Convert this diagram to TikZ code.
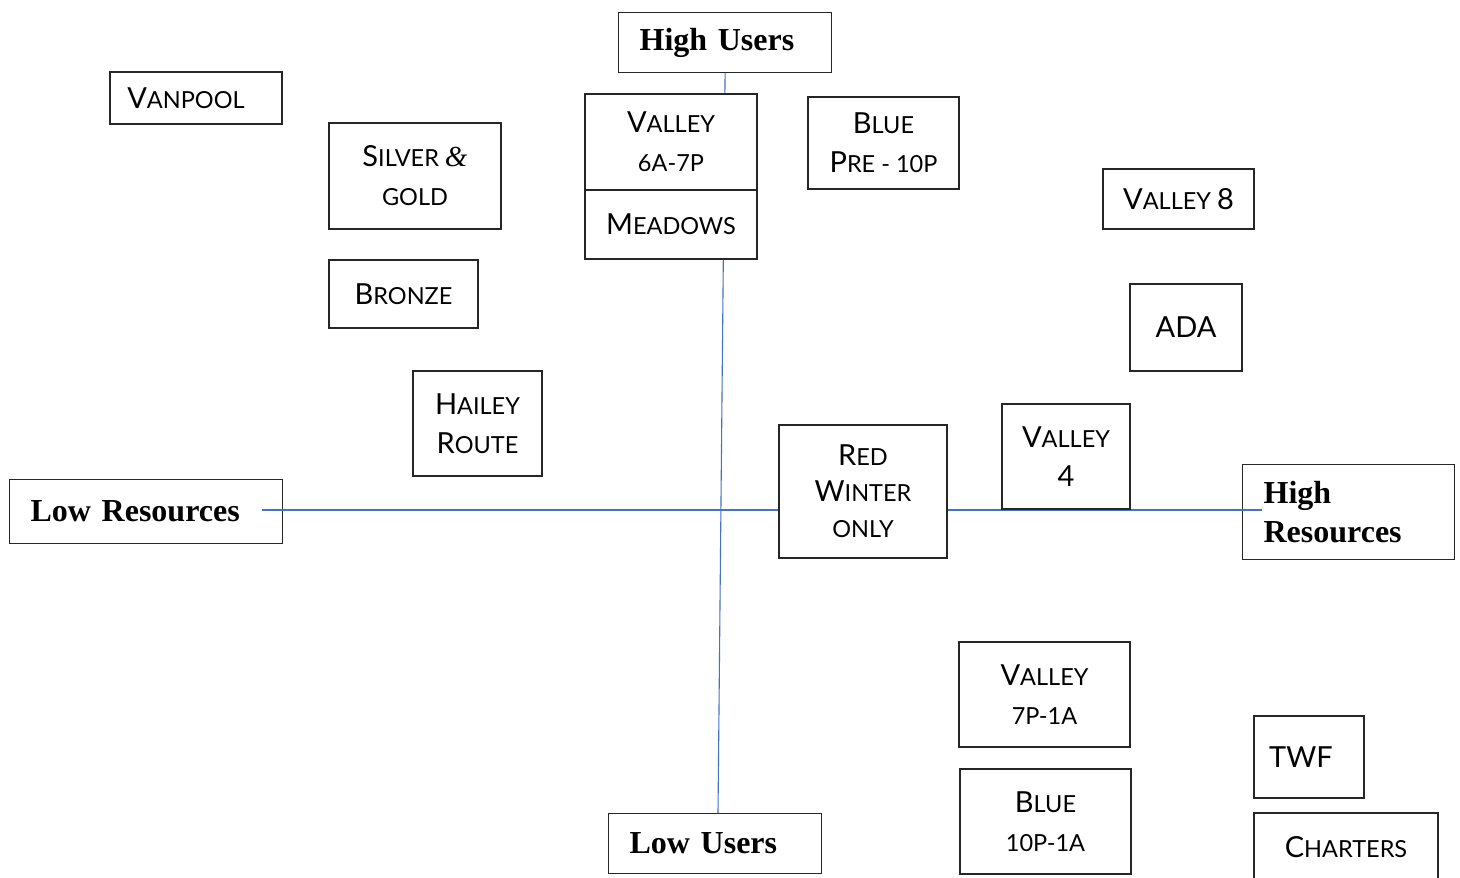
\documentclass[tikz,border=0pt]{standalone}
\usepackage{fontspec}
\newfontfamily\labelfont{Lato}
\newfontfamily\axisfont{Liberation Serif}
% larger capitals for the hand-made small caps
\newcommand\Bg[1]{{\fontsize{29}{29}\selectfont #1}}
\newcommand\amp{{\axisfont\itshape\fontsize{29}{29}\selectfont\&}}
\definecolor{axisblue}{HTML}{4472C4}
\definecolor{edge}{HTML}{262626}
\begin{document}
\begin{tikzpicture}[x=1pt,y=-1pt,
  axisbox/.style={draw=edge, line width=1.2pt, fill=white, inner ysep=0pt, inner xsep=21pt,
    align=left, anchor=north west, font=\axisfont\bfseries\fontsize{32}{39}\selectfont},
  tag/.style={draw=edge, line width=1.2pt, fill=white, inner sep=0pt, align=center,
    font=\labelfont\fontsize{23.5}{39}\selectfont},
  axisline/.style={draw=axisblue, line width=1.1pt}]
\useasboundingbox (0,0) rectangle (1460,878);

% axis labels
\node[axisbox, text width=171pt, minimum height=60pt] (hu) at (618,12) {High Users};
\node[axisbox, text width=171pt, minimum height=60pt] (lu) at (608,813) {Low Users};
\node[axisbox, text width=231pt, minimum height=64pt] (lr) at (9,479) {Low Resources};
\node[axisbox, text width=170pt, minimum height=95pt] (hr) at (1242,464) {High\\Resources};

% axes
\coordinate (xl) at (262,510);
\coordinate (xr) at (1262,510);
\coordinate (yb) at (718,813);
\draw[axisline] (xl) -- (xr);
\draw[axisline] (hu.south) -- (yb);

% services
\node[tag, minimum width=172pt, minimum height=52pt] (vanpool) at (196,98) {\Bg{V}ANPOOL\hspace{20pt}};
\node[tag, minimum width=172pt, minimum height=106pt] (silver) at (415,176) {\Bg{S}ILVER \amp\\GOLD};
\node[tag, minimum width=149pt, minimum height=68pt] (bronze) at (403.5,294) {\Bg{B}RONZE};
\node[tag, minimum width=129pt, minimum height=105pt] (hailey) at (477.5,423.5) {\Bg{H}AILEY\\\Bg{R}OUTE};
\node[tag, minimum width=172pt, minimum height=96pt] (valleyday) at (671,142) {\Bg{V}ALLEY\\6A-7P};
\node[tag, minimum width=172pt, minimum height=69pt] (meadows) at (671,224.5) {\Bg{M}EADOWS};
\node[tag, minimum width=151pt, minimum height=92pt] (bluepre) at (883.5,143) {\Bg{B}LUE\\\Bg{P}RE - 10P};
\node[tag, minimum width=151pt, minimum height=60pt] (valley8) at (1178.5,199) {\Bg{V}ALLEY \Bg{8}};
\node[tag, minimum width=112pt, minimum height=87pt] (ada) at (1186,327.5) {\Bg{ADA}};
\node[tag, minimum width=128pt, minimum height=105pt] (valley4) at (1066,456.5) {\Bg{V}ALLEY\\\Bg{4}};
\node[tag, minimum width=168pt, minimum height=133pt, font=\labelfont\fontsize{23.5}{36}\selectfont] (red) at (863,491.5) {\Bg{R}ED\\\Bg{W}INTER\\ONLY};
\node[tag, minimum width=171pt, minimum height=105pt] (valleynight) at (1044.5,694.5) {\Bg{V}ALLEY\\7P-1A};
\node[tag, minimum width=171pt, minimum height=105pt] (bluenight) at (1045.5,821.5) {\Bg{B}LUE\\10P-1A};
\node[tag, minimum width=110pt, minimum height=82pt] (twf) at (1309,757) {\Bg{TWF}\hspace{16pt}};
\node[tag, minimum width=184pt, minimum height=68pt] (charters) at (1346,847) {\Bg{C}HARTERS};
\end{tikzpicture}
\end{document}
